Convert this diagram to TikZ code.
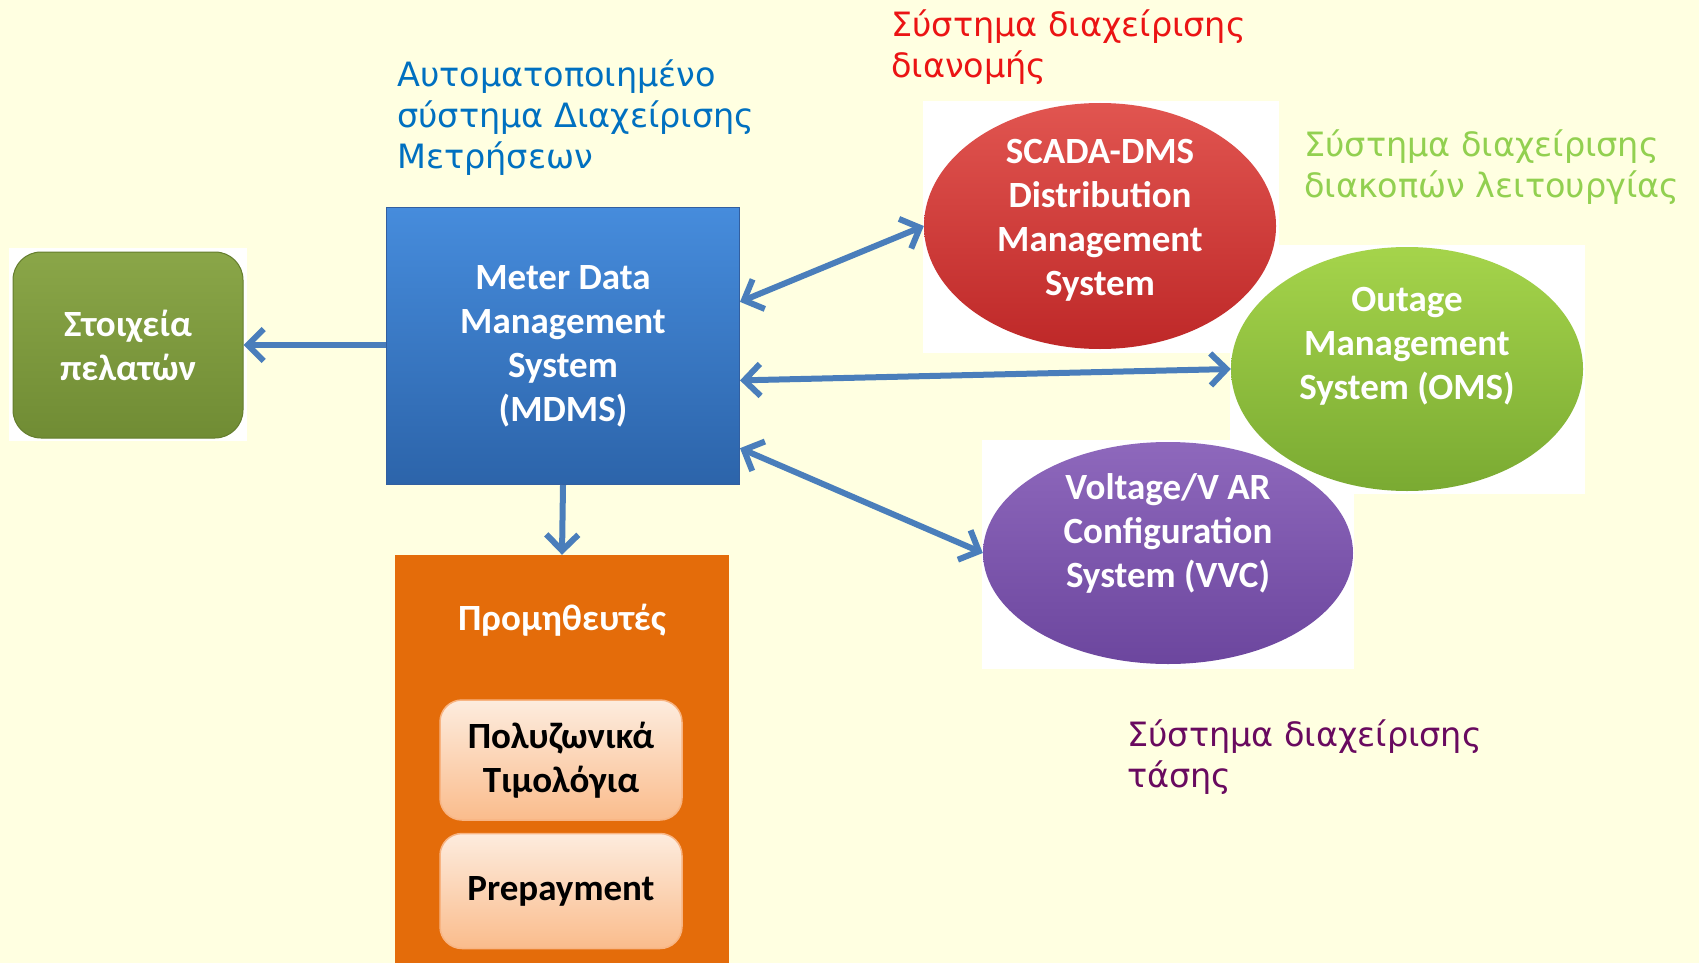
\documentclass[tikz,border=0pt]{standalone}
\usepackage{fontspec}
\setmainfont{Carlito}
\newfontfamily\notefont{DejaVu Sans}
\usetikzlibrary{positioning,shapes.geometric,arrows.meta}

\definecolor{paper}{RGB}{255,255,225}
\definecolor{linkblue}{RGB}{74,126,187}
\definecolor{notered}{RGB}{235,20,20}
\definecolor{noteblue}{RGB}{0,112,192}
\definecolor{notegreen}{RGB}{146,208,80}
\definecolor{notepurple}{RGB}{105,10,95}
\definecolor{suppliers}{RGB}{228,108,10}

\begin{document}
\begin{tikzpicture}[x=1pt, y={(0pt,-1pt)}, >={Straight Barb[length=16pt,width=32pt]},
  boxtext/.style={text=white, font=\fontsize{37}{44}\selectfont\bfseries, align=center},
  system/.style={ellipse, inner sep=0pt, minimum width=352pt, minimum height=246pt},
  tariff/.style={rounded corners=22pt, draw={rgb,255:red,248;green,180;blue,130}, line width=1.5pt,
    top color={rgb,255:red,253;green,236;blue,222}, bottom color={rgb,255:red,250;green,188;blue,140},
    minimum width=242pt, font=\fontsize{37}{44}\selectfont\bfseries, align=center},
  note/.style={anchor=north west, align=left, inner sep=0pt, font=\notefont\fontsize{33.5}{41}\selectfont},
  link/.style={draw=linkblue, line width=6pt}]

  \fill[paper] (0,0) rectangle (1699,963);
  \useasboundingbox (0,0) rectangle (1699,963);

  % white backings of the pasted shapes
  \fill[white] (9,248) rectangle (247,441);
  \fill[white] (923,101) rectangle (1279,353);
  \fill[white] (1230,245) rectangle (1585,494);
  \fill[white] (982,440) rectangle (1354,669);

  % notes
  \node[note, text=notered] (dmsnote) at (891,10) {Σύστημα διαχείρισης\\διανομής};
  \node[note, text=noteblue] (mdmsnote) at (397,60) {Αυτοματοποιημένο\\σύστημα Διαχείρισης\\Μετρήσεων};
  \node[note, text=notegreen] (omsnote) at (1304,130) {Σύστημα διαχείρισης\\διακοπών λειτουργίας};
  \node[note, text=notepurple] (vvcnote) at (1127,719) {Σύστημα διαχείρισης\\τάσης};

  % boxes
  \node[boxtext, rounded corners=28pt, minimum width=230pt, minimum height=186pt,
    draw={rgb,255:red,100;green,125;blue,45}, line width=1pt,
    top color={rgb,255:red,138;green,166;blue,72}, bottom color={rgb,255:red,112;green,140;blue,52}]
    (customers) at (128,345) {Στοιχεία\\πελατών};
  \node[boxtext, minimum width=353pt, minimum height=277pt,
    draw={rgb,255:red,50;green,95;blue,160}, line width=1pt,
    top color={rgb,255:red,70;green,140;blue,220}, bottom color={rgb,255:red,44;green,100;blue,170}]
    (mdms) at (563,346) {Meter Data\\Management\\System\\(MDMS)};
  \node[fill=suppliers, minimum width=334pt, minimum height=408pt] (supp) at (562,759) {};
  \node[boxtext] (supptitle) at (562,620) {Προμηθευτές};
  \node[tariff, minimum height=120pt] (tariffs) at (561,760) {Πολυζωνικά\\Τιμολόγια};
  \node[tariff, minimum height=115pt, below=12pt of tariffs] (prepay) {Prepayment};

  % systems
  \node[system, top color={rgb,255:red,225;green,85;blue,80}, bottom color={rgb,255:red,190;green,40;blue,40}]
    (dms) at (1100,226) {};
  \node[boxtext] (dmstext) at (1100,220) {SCADA-DMS\\Distribution\\Management\\System};
  \node[system, minimum height=244pt, top color={rgb,255:red,165;green,212;blue,75}, bottom color={rgb,255:red,122;green,170;blue,50}]
    (oms) at (1407,369) {};
  \node[boxtext] (omstext) at (1407,346) {Outage\\Management\\System (OMS)};
  \node[system, minimum width=370pt, minimum height=222pt, top color={rgb,255:red,142;green,104;blue,188}, bottom color={rgb,255:red,108;green,70;blue,158}]
    (vvc) at (1168,553) {};
  \node[boxtext] (vvctext) at (1168,533) {Voltage/V AR\\Configuration\\System (VVC)};

  % links
  \draw[link, ->] (mdms.west |- customers.east) -- (customers.east);
  \draw[link, ->] (mdms.south) -- (supp.north);
  \draw[link, <->] (mdms.14) -- (dms.west);
  \draw[link, <->] (mdms.-11) -- (oms.west);
  \draw[link, <->] (mdms.-30) -- (vvc.west);
\end{tikzpicture}
\end{document}
